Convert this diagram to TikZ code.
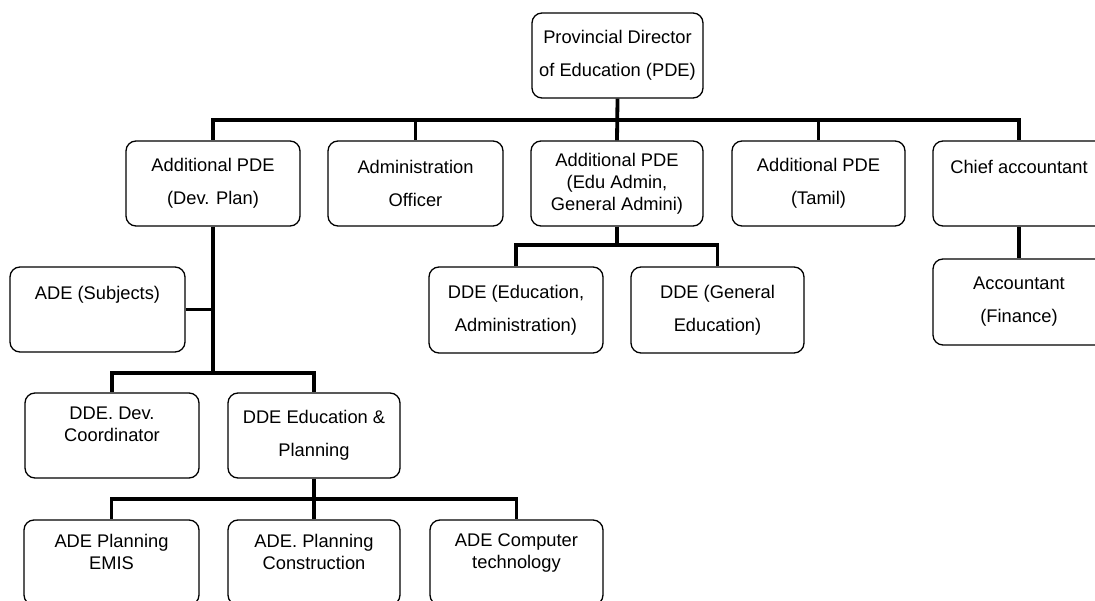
\documentclass[tikz,border=0pt]{standalone}
\usepackage{fontspec}
\setmainfont{Liberation Sans}
\begin{document}
\begin{tikzpicture}[x=1pt,y=-1pt,
  box/.style={draw=black, line width=1.3pt, rounded corners=10pt, align=center, inner sep=0pt,
    font=\fontsize{18.3}{33}\selectfont},
  tight/.style={font=\fontsize{18.3}{22}\selectfont},
  link/.style={draw=black, line width=3.8pt}]
\useasboundingbox (0,0) rectangle (1095,601);
\clip (0,0) rectangle (1095,601);
\fill[white] (0,0) rectangle (1095,601);

% nodes
\node[box, minimum width=171pt, minimum height=85pt] (pde) at (617.5,55.5) {Provincial Director\\of Education (PDE)};

\node[box, minimum width=174pt, minimum height=85pt] (devplan) at (213,183.5) {Additional PDE\\(Dev. Plan)};
\node[box, minimum width=175pt, minimum height=85pt] (admin) at (415.5,183.5) {Administration\\Officer};
\node[box, tight, minimum width=172pt, minimum height=85pt] (edu) at (617,183.5) {Additional PDE\\(Edu Admin,\\General Admini)};
\node[box, minimum width=173pt, minimum height=85pt] (tamil) at (818.5,183.5) {Additional PDE\\(Tamil)};
\node[box, minimum width=172pt, minimum height=85pt] (chief) at (1019,183.5) {Chief accountant\\\mbox{}};

\node[box, minimum width=172pt, minimum height=86pt] (acct) at (1019,302) {Accountant\\(Finance)};
\node[box, minimum width=174pt, minimum height=86pt] (ddeedu) at (516,310) {DDE (Education,\\Administration)};
\node[box, minimum width=173pt, minimum height=86pt] (ddegen) at (717.5,310) {DDE (General\\Education)};

\node[box, minimum width=175pt, minimum height=85pt] (subj) at (97.5,309.5) {ADE (Subjects)\\\mbox{}};

\node[box, tight, minimum width=174pt, minimum height=85pt] (ddedev) at (112,435.5) {DDE. Dev.\\Coordinator\\\mbox{}};
\node[box, minimum width=172pt, minimum height=85pt] (ddeplan) at (314,435.5) {DDE Education \&\\Planning};

\node[box, tight, minimum width=175pt, minimum height=85pt] (emis) at (111.5,562.5) {ADE Planning\\EMIS\\\mbox{}};
\node[box, tight, minimum width=172pt, minimum height=85pt] (constr) at (314,562.5) {ADE. Planning\\Construction\\\mbox{}};
\node[box, tight, minimum width=173pt, minimum height=85pt] (comp) at (516.5,562.5) {ADE Computer\\technology\\\mbox{}};

% connectors
\coordinate (bus1) at (617.5,120);
\draw[link] (pde.south) -- (edu.north);
\draw[link] (bus1) -| (devplan.north);
\draw[link] (bus1) -| (admin.north);
\draw[link] (bus1) -| (tamil.north);
\draw[link] (bus1) -| (chief.north);

\draw[link] (chief.south) -- (acct.north);

\coordinate (bus2) at (617,245);
\draw[link] (edu.south) -- (bus2);
\draw[link] (bus2) -| (ddeedu.north);
\draw[link] (bus2) -| (ddegen.north);

\coordinate (bus3) at (213,373);
\draw[link] (devplan.south) -- (bus3);
\draw[link] (subj.east) -- (subj.east -| bus3);
\draw[link] (bus3) -| (ddedev.north);
\draw[link] (bus3) -| (ddeplan.north);

\coordinate (bus4) at (314,499);
\draw[link] (ddeplan.south) -- (constr.north);
\draw[link] (bus4) -| (emis.north);
\draw[link] (bus4) -| (comp.north);
\end{tikzpicture}
\end{document}
